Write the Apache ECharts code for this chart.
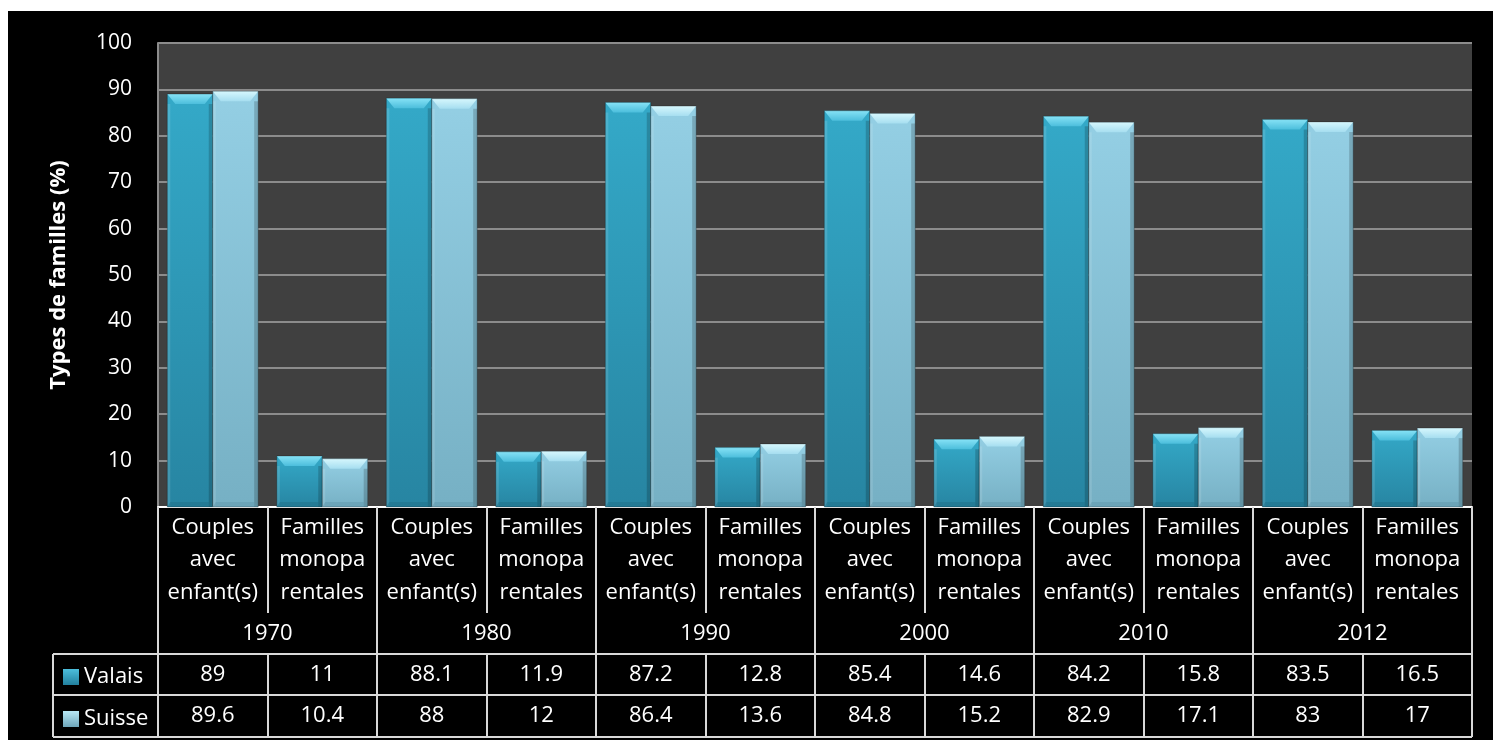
<!DOCTYPE html>
<html>
<head>
<meta charset="utf-8">
<script src="https://cdn.jsdelivr.net/npm/echarts@6/dist/echarts.min.js"></script>
<style>
  html, body { margin: 0; padding: 0; background: #ffffff; width: 1493px; height: 740px; overflow: hidden; }
  #chart { position: absolute; left: 8px; top: 11px; width: 1485px; height: 729px; }
</style>
</head>
<body>
<div id="chart"></div>
<script>
// Family types per census year (%)
const years = ['1970', '1980', '1990', '2000', '2010', '2012'];
const familyTypes = ['Couples\navec\nenfant(s)', 'Familles\nmonopa\nrentales'];
const valais = [89, 11, 88.1, 11.9, 87.2, 12.8, 85.4, 14.6, 84.2, 15.8, 83.5, 16.5];
const suisse = [89.6, 10.4, 88, 12, 86.4, 13.6, 84.8, 15.2, 82.9, 17.1, 83, 17];
const yTicks = { min: 0, max: 100, interval: 10 };
const seriesNames = ['Valais', 'Suisse'];
const yTitle = 'Types de familles (%)';

const categories = [];
years.forEach(() => familyTypes.forEach(t => categories.push(t)));

const FONT = '"Open Sans", "Noto Sans", sans-serif';
const LINE = '#d9d9d9';

const palettes = {
  Valais: { top: '#34a9c8', bottom: '#2785a2', capTop: '#86e2f6', capBottom: '#4cbedc', base: '#1f6f88' },
  Suisse: { top: '#94cfe4', bottom: '#76b0c4', capTop: '#d6f7fd', capBottom: '#a6def0', base: '#5f97ab' }
};

function vGrad(c1, c2) {
  return new echarts.graphic.LinearGradient(0, 0, 0, 1, [
    { offset: 0, color: c1 }, { offset: 1, color: c2 }
  ]);
}

// Bevelled bar: body, side strips, top cap and base band
function bevelBar(side, pal) {
  return function (params, api) {
    const idx = api.value(0);
    const v = api.value(1);
    const p0 = api.coord([idx, 0]);
    const p1 = api.coord([idx, v]);
    const band = api.size([1, 0])[0];
    const w = band * 0.415;
    const x = side < 0 ? p0[0] - w : p0[0];
    const yTop = p1[1];
    const yBot = p0[1];
    const h = yBot - yTop;
    const b = Math.min(10, h / 3);
    const s = 8;
    const bb = Math.min(5, h / 4);
    return {
      type: 'group',
      children: [
        { type: 'rect', shape: { x: x, y: yTop, width: w, height: h },
          style: { fill: vGrad(pal.top, pal.bottom) } },
        { type: 'rect', shape: { x: x, y: yTop + b, width: 3, height: h - b },
          style: { fill: 'rgba(255,255,255,0.12)' } },
        { type: 'rect', shape: { x: x + w - 4, y: yTop + b, width: 4, height: h - b },
          style: { fill: 'rgba(0,0,0,0.18)' } },
        { type: 'polygon', shape: { points: [[x, yTop], [x + w, yTop], [x + w - s, yTop + b], [x + s, yTop + b]] },
          style: { fill: vGrad(pal.capTop, pal.capBottom) } },
        { type: 'polygon', shape: { points: [[x + 3, yBot - bb], [x + w - 4, yBot - bb], [x + w, yBot], [x, yBot]] },
          style: { fill: pal.base, opacity: 0.5 } },
        { type: 'rect', shape: { x: x, y: yTop, width: w, height: h },
          style: { fill: 'none', stroke: 'rgba(0,0,0,0.25)', lineWidth: 1 } }
      ]
    };
  };
}

const chart = echarts.init(document.getElementById('chart'), null, { renderer: 'canvas' });

const labelBase = { color: '#ffffff', fontFamily: FONT, fontSize: 22 };

const option = {
  backgroundColor: '#000000',
  animation: false,
  grid: {
    left: 150, right: 21, top: 32, bottom: 233,
    show: true, backgroundColor: '#404040', borderWidth: 0
  },
  legend: {
    orient: 'vertical',
    left: 55, top: 655, padding: 0,
    itemWidth: 16, itemHeight: 16, itemGap: 20,
    icon: 'rect',
    textStyle: { color: '#ffffff', fontFamily: FONT, fontSize: 22, lineHeight: 22 },
    data: seriesNames
  },
  yAxis: {
    type: 'value',
    min: yTicks.min, max: yTicks.max, interval: yTicks.interval,
    name: yTitle,
    nameLocation: 'middle',
    nameGap: 88,
    nameTextStyle: { color: '#ffffff', fontFamily: FONT, fontSize: 22, fontWeight: 'bold' },
    axisLine: { show: true, lineStyle: { color: '#8c8c8c', width: 2 } },
    axisTick: { show: false },
    axisLabel: { color: '#ffffff', fontFamily: FONT, fontSize: 21, margin: 26 },
    splitLine: { lineStyle: { color: '#8c8c8c', width: 2 } }
  },
  xAxis: [
    {
      type: 'category', data: categories, position: 'bottom',
      axisLine: { show: true, lineStyle: { color: '#ffffff', width: 2 } },
      axisTick: { show: true, interval: 0, length: 106, lineStyle: { color: LINE, width: 2 } },
      axisLabel: Object.assign({ interval: 0, margin: 4, lineHeight: 32.5, align: 'center' }, labelBase)
    },
    {
      type: 'category', data: years, position: 'bottom', offset: 0,
      axisLine: { show: false },
      axisTick: { show: true, interval: 0, length: 147, lineStyle: { color: LINE, width: 2 } },
      axisLabel: Object.assign({ interval: 0, margin: 115, lineHeight: 24 }, labelBase)
    },
    {
      type: 'category', data: valais.map(String), position: 'bottom', offset: 147,
      axisLine: { show: true, lineStyle: { color: LINE, width: 2 } },
      axisTick: { show: true, interval: 0, length: 41, lineStyle: { color: LINE, width: 2 } },
      axisLabel: Object.assign({ interval: 0, margin: 9, lineHeight: 24 }, labelBase)
    },
    {
      type: 'category', data: suisse.map(String), position: 'bottom', offset: 188,
      axisLine: { show: true, lineStyle: { color: LINE, width: 2 } },
      axisTick: { show: true, interval: 0, length: 42, lineStyle: { color: LINE, width: 2 } },
      axisLabel: Object.assign({ interval: 0, margin: 9, lineHeight: 24 }, labelBase)
    }
  ],
  series: [
    {
      name: 'Valais', type: 'custom', xAxisIndex: 0,
      itemStyle: { color: vGrad('#4cbedc', '#22809e') },
      renderItem: bevelBar(-1, palettes.Valais),
      encode: { x: 0, y: 1 },
      data: valais.map((v, i) => [i, v])
    },
    {
      name: 'Suisse', type: 'custom', xAxisIndex: 0,
      itemStyle: { color: vGrad('#b8e8f5', '#6ea6ba') },
      renderItem: bevelBar(1, palettes.Suisse),
      encode: { x: 0, y: 1 },
      data: suisse.map((v, i) => [i, v])
    }
  ],
  graphic: [
    // legend column of the data table and its closing bottom rule
    { type: 'line', shape: { x1: 45, y1: 643, x2: 150, y2: 643 }, style: { stroke: LINE, lineWidth: 2 } },
    { type: 'line', shape: { x1: 45, y1: 684, x2: 150, y2: 684 }, style: { stroke: LINE, lineWidth: 2 } },
    { type: 'line', shape: { x1: 45, y1: 726, x2: 1464, y2: 726 }, style: { stroke: LINE, lineWidth: 2 } },
    { type: 'line', shape: { x1: 45, y1: 643, x2: 45, y2: 726 }, style: { stroke: LINE, lineWidth: 2 } }
  ]
};

chart.setOption(option);
</script>
</body>
</html>
